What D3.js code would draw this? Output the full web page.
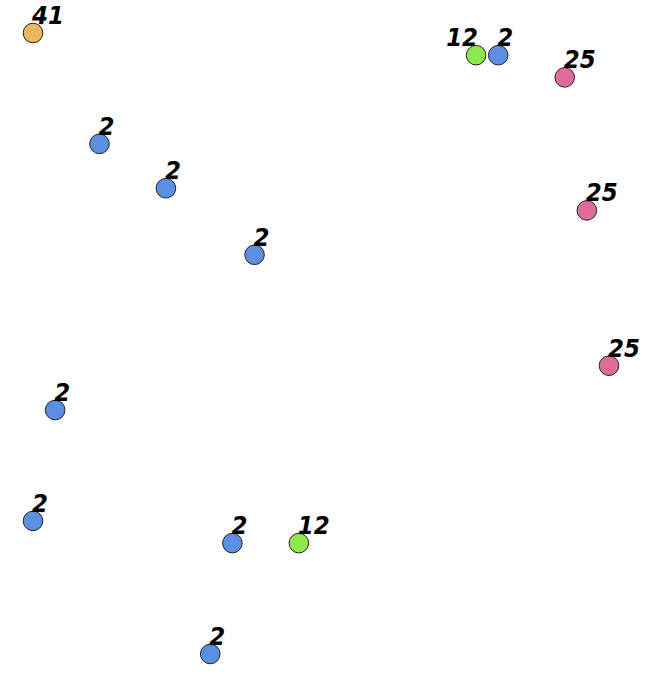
<!DOCTYPE html>
<html>
<head>
<meta charset="utf-8">
<script src="https://cdn.jsdelivr.net/npm/d3@7"></script>
<style>
  html, body { margin: 0; padding: 0; background: #fff; }
  svg { display: block; }
</style>
</head>
<body>
<svg id="chart" width="663" height="677"></svg>
<script>
// Data: grid positions (column, row) and value of each point
const colIndex = [0, 20, 21, 24, 3, 6, 25, 10, 26, 1, 0, 9, 12, 8];
const rowIndex = [0, 1, 1, 2, 5, 7, 8, 10, 15, 17, 22, 23, 23, 28];
const values   = [41, 12, 2, 25, 2, 2, 25, 2, 25, 2, 2, 2, 12, 2];
const valueKeys = [41, 12, 2, 25];
const valueColors = ["#EEB660", "#8DE84C", "#5B8FE1", "#DD6C9A"];

const points = values.map((v, i) => ({ col: colIndex[i], row: rowIndex[i], value: v }));

const svg = d3.select("#chart");
const x = d3.scaleLinear().domain([0, 26]).range([33, 609]);
const y = d3.scaleLinear().domain([0, 28]).range([33, 654]);
const color = d3.scaleOrdinal().domain(valueKeys).range(valueColors);

const r = 9.8;
const fontSize = 25.5;
const charW = fontSize * 0.626;

// simple label collision avoidance: flip label to the left if it would hit a point to its right on same row
points.forEach(p => {
  const w = String(p.value).length * charW;
  const px = x(p.col);
  const hit = points.some(q => q !== p && q.row === p.row && x(q.col) > px && x(q.col) - r < px + w);
  p.anchor = hit ? "end" : "start";
});

svg.selectAll("circle.pt")
  .data(points)
  .join("circle")
  .attr("class", "pt")
  .attr("cx", d => x(d.col))
  .attr("cy", d => y(d.row))
  .attr("r", r)
  .attr("fill", d => color(d.value))
  .attr("stroke", "#222")
  .attr("stroke-width", 1);

svg.selectAll("text.lbl")
  .data(points)
  .join("text")
  .attr("class", "lbl")
  .attr("x", d => x(d.col) + (d.anchor === "end" ? 2 : -1))
  .attr("y", d => y(d.row) - 9)
  .attr("text-anchor", d => d.anchor)
  .attr("font-family", "'DejaVu Sans Condensed', 'DejaVu Sans', sans-serif")
  .attr("font-stretch", "condensed")
  .attr("font-weight", "bold")
  .attr("font-style", "italic")
  .attr("font-size", fontSize)
  .attr("fill", "#000")
  .text(d => d.value);
</script>
</body>
</html>
